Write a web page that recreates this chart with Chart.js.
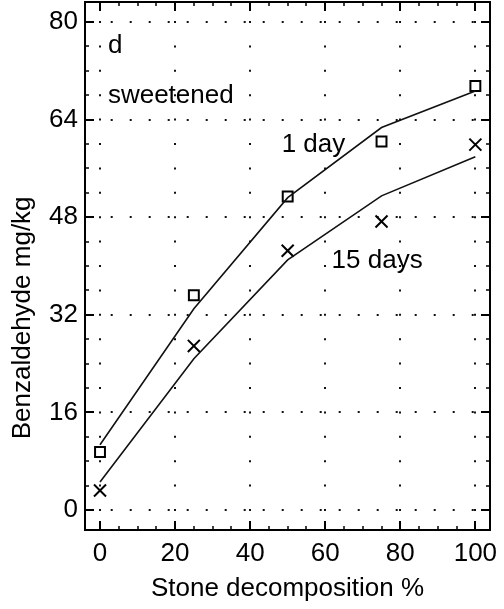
<!DOCTYPE html>
<html>
<head>
<meta charset="utf-8">
<script src="https://cdn.jsdelivr.net/npm/chart.js@4/dist/chart.umd.min.js"></script>
<style>
    html, body { margin: 0; padding: 0; background: #ffffff; }
</style>
</head>
<body>
<canvas id="benzChart" width="504" height="609"></canvas>
<script>
// Data
const stonePercent = [0, 25, 50, 75, 100];
const oneDayMeasured = [9.5, 35.2, 51.4, 60.4, 69.5];
const oneDayFitted = [10.7, 33.0, 51.2, 62.7, 68.7];
const fifteenDaysMeasured = [3.2, 26.9, 42.5, 47.3, 59.9];
const fifteenDaysFitted = [4.6, 24.8, 41.0, 51.5, 57.9];

// Ticks
const xTickLabels = [0, 20, 40, 60, 80, 100];
const xMinorTicks = [0, 5, 10, 15, 20, 25, 30, 35, 40, 45, 50, 55, 60, 65, 70, 75, 80, 85, 90, 95, 100];
const yTickLabels = [0, 16, 32, 48, 64, 80];
const yMinorTicks = [0, 4, 8, 12, 16, 20, 24, 28, 32, 36, 40, 44, 48, 52, 56, 60, 64, 68, 72, 76, 80];

// Text inside the plot (data units, left aligned, on the baseline)
const plotNotes = [
    { text: 'd', x: 2.1, y: 74.9 },
    { text: 'sweetened', x: 2.1, y: 66.7 },
    { text: '1 day', x: 48.4, y: 58.7 },
    { text: '15 days', x: 61.7, y: 39.6 }
];

const FONT = '"Liberation Sans", Arial, Helvetica, sans-serif';
const INK = '#000000';

Chart.defaults.font.family = FONT;
Chart.defaults.color = INK;

const toPoints = (ys) => stonePercent.map((x, i) => ({ x: x, y: ys[i] }));

// Frame axis: every minor tick marked inward, majors longer, dotted grid on majors
function frameAxis(position, range, majors, minors, opts) {
    const outwardStart = position === 'left' || position === 'top';
    const isMajor = (ctx) => !!(ctx.tick && majors.includes(ctx.tick.value));
    return {
        type: 'linear',
        position: position,
        min: range[0],
        max: range[1],
        bounds: 'data',
        afterBuildTicks: (axis) => {
            axis.ticks = minors.map(v => ({ value: v }));
        },
        afterFit: (axis) => {
            if (axis.isHorizontal()) axis.height = opts.size;
            else axis.width = opts.size;
            // no extra room for overhanging labels, the frame is fixed
            axis.paddingTop = 0;
            axis.paddingBottom = 0;
            axis.paddingLeft = 0;
            axis.paddingRight = 0;
        },
        border: {
            display: true,
            color: INK,
            width: 2,
            dash: opts.dash || [],
            dashOffset: opts.dashOffset || 0
        },
        grid: {
            drawOnChartArea: !!opts.grid,
            color: (ctx) => isMajor(ctx) ? '#111111' : 'rgba(0,0,0,0)',
            lineWidth: 2,
            drawTicks: true,
            tickLength: -9,
            tickColor: INK,
            tickWidth: (ctx) => isMajor(ctx) ? 2 : 1.5,
            tickBorderDash: (ctx) => isMajor(ctx) ? [] : [5, 50],
            tickBorderDashOffset: (ctx) => (outwardStart && !isMajor(ctx)) ? 50 : 0
        },
        ticks: {
            display: !!opts.labels,
            autoSkip: false,
            maxRotation: 0,
            padding: opts.padding || 0,
            font: { size: 26 },
            color: INK,
            callback: (value) => majors.includes(value) ? String(value) : ''
        },
        title: opts.title || { display: false }
    };
}

// Notes and rotated y title drawn through the chart's scales
const notesPlugin = {
    id: 'plotNotes',
    afterDraw(chart) {
        const { ctx, scales } = chart;
        ctx.save();
        ctx.fillStyle = INK;
        ctx.font = '26px ' + FONT;
        ctx.textAlign = 'left';
        ctx.textBaseline = 'alphabetic';
        plotNotes.forEach(note => {
            ctx.fillText(note.text, scales.x.getPixelForValue(note.x), scales.y.getPixelForValue(note.y));
        });
        ctx.translate(scales.y.left + 23, scales.y.getPixelForValue(31.5));
        ctx.rotate(-Math.PI / 2);
        ctx.textAlign = 'center';
        ctx.textBaseline = 'middle';
        ctx.fillText('Benzaldehyde mg/kg', 0, 0);
        ctx.restore();
    }
};

const xRange = [-4, 103.9];
const yRange = [-3.28, 83.28];

new Chart(document.getElementById('benzChart'), {
    type: 'line',
    data: {
        datasets: [
            {
                label: '1 day fit',
                data: toPoints(oneDayFitted),
                borderColor: '#111111',
                borderWidth: 1.6,
                pointRadius: 0,
                tension: 0
            },
            {
                label: '15 days fit',
                data: toPoints(fifteenDaysFitted),
                borderColor: '#111111',
                borderWidth: 1.6,
                pointRadius: 0,
                tension: 0
            },
            {
                label: '1 day',
                data: toPoints(oneDayMeasured),
                showLine: false,
                pointStyle: 'rect',
                pointRadius: 7,
                borderWidth: 2,
                borderColor: INK,
                backgroundColor: 'rgba(0,0,0,0)'
            },
            {
                label: '15 days',
                data: toPoints(fifteenDaysMeasured),
                showLine: false,
                pointStyle: 'crossRot',
                pointRadius: 8.5,
                borderWidth: 2,
                borderColor: INK
            }
        ]
    },
    options: {
        responsive: false,
        animation: false,
        layout: {
            autoPadding: false,
            padding: { left: 0, right: 14, top: 2, bottom: 0 }
        },
        plugins: {
            legend: { display: false },
            tooltip: { enabled: false }
        },
        scales: {
            x: frameAxis('bottom', xRange, xTickLabels, xMinorTicks, {
                size: 79, grid: true, labels: true, padding: 17,
                dash: [2, 22.4], dashOffset: 5.4,
                title: {
                    display: true,
                    text: 'Stone decomposition %',
                    font: { size: 26 },
                    color: INK,
                    padding: { top: 0, bottom: 5 }
                }
            }),
            y: frameAxis('left', yRange, yTickLabels, yMinorTicks, {
                size: 85, grid: true, labels: true, padding: 16,
                dash: [2, 17], dashOffset: 13.3
            }),
            x2: frameAxis('top', xRange, xTickLabels, xMinorTicks, { size: 0 }),
            y2: frameAxis('right', yRange, yTickLabels, yMinorTicks, { size: 0 })
        }
    },
    plugins: [notesPlugin]
});
</script>
</body>
</html>
